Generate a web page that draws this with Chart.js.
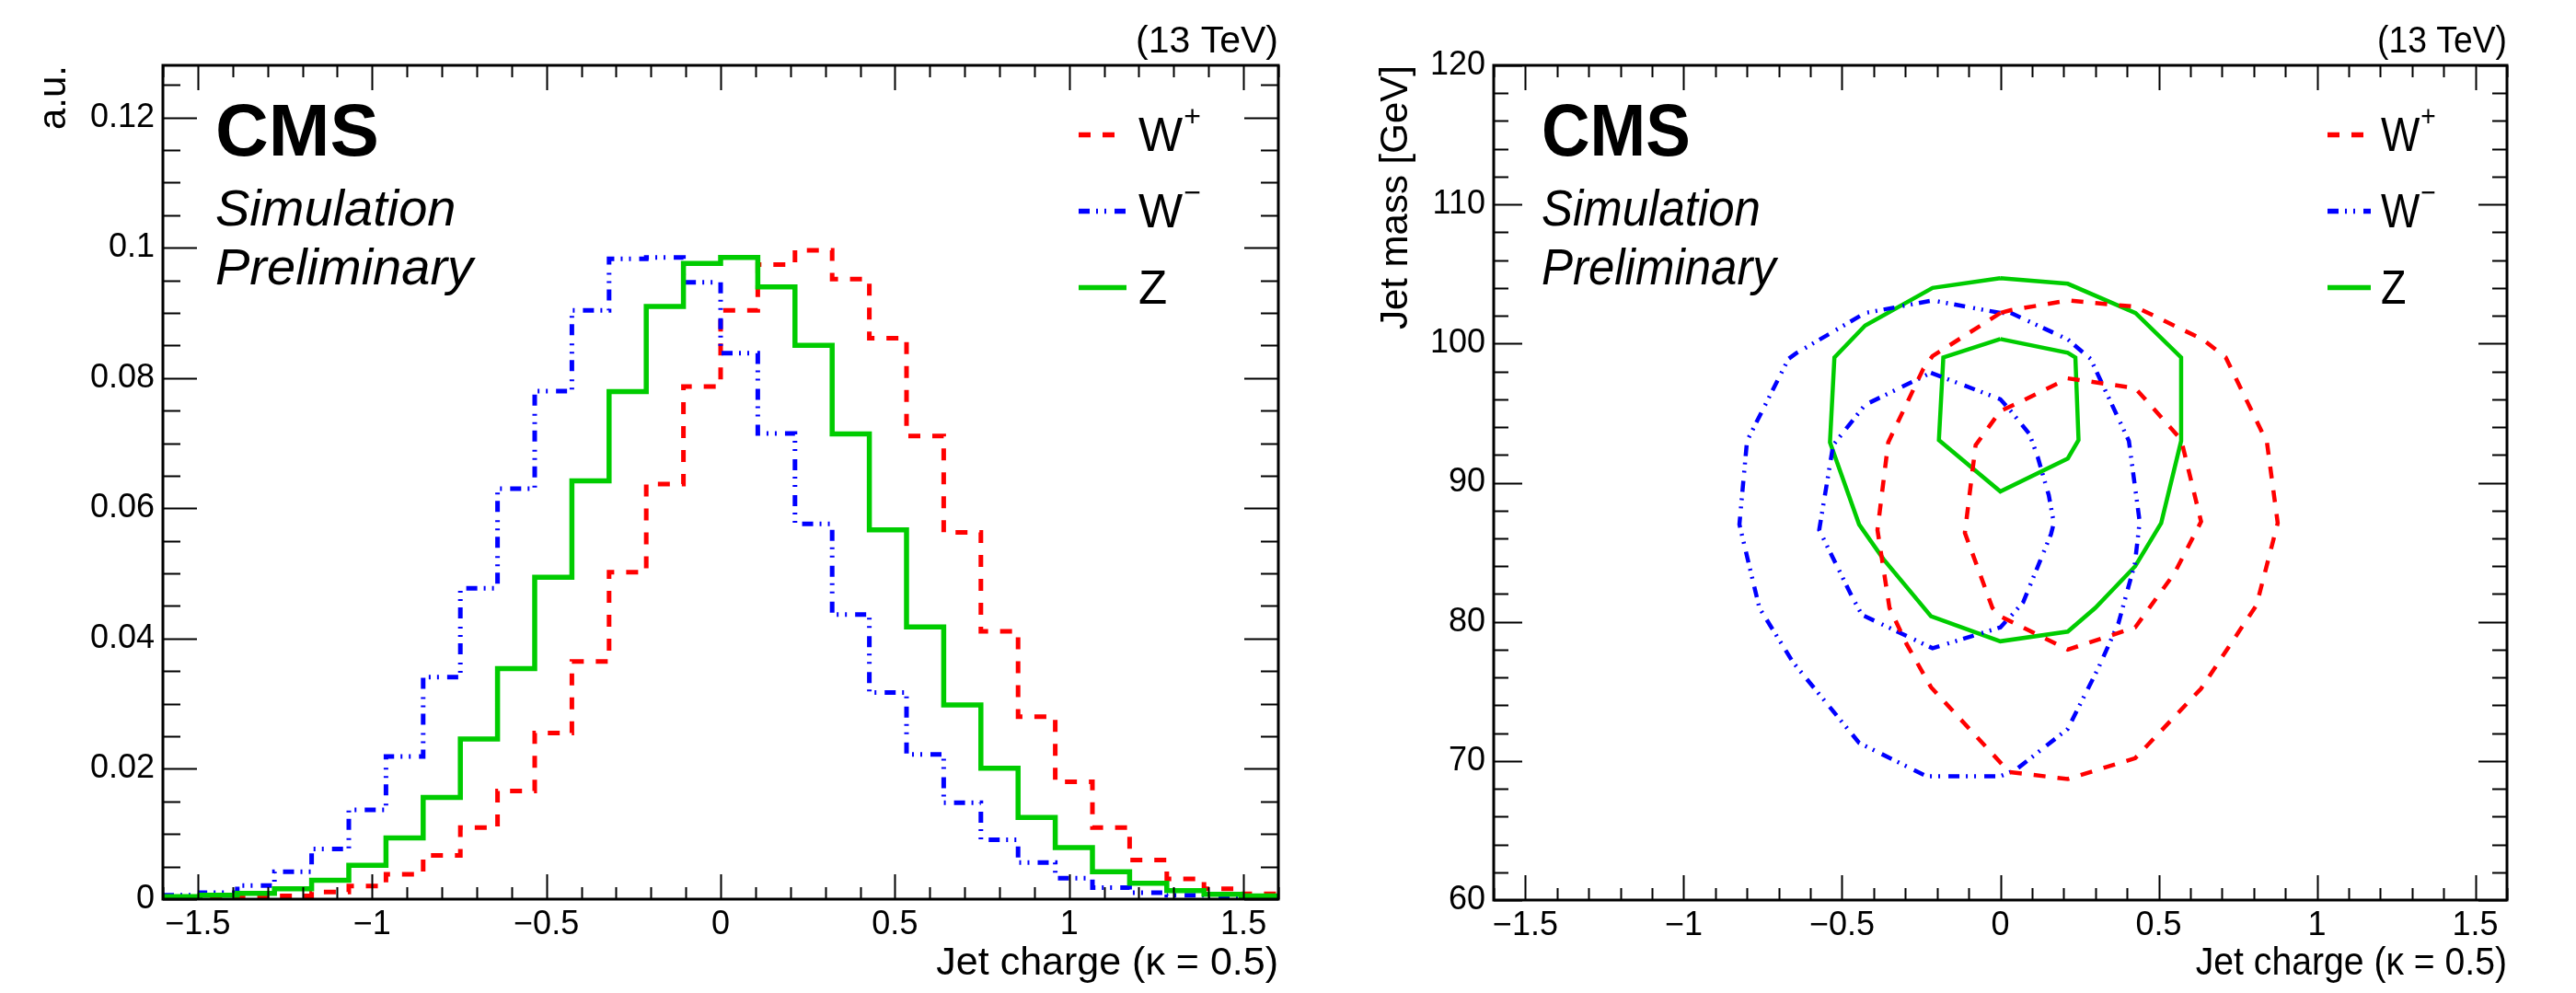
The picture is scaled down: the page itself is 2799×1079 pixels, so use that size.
<!DOCTYPE html>
<html>
<head>
<meta charset="utf-8">
<script src="https://cdn.jsdelivr.net/npm/chart.js@4.4.1/dist/chart.umd.min.js"></script>
<style>
  html, body { margin: 0; padding: 0; background: #fff; }
  #left { position: absolute; left: 0; top: 0; }
  #right { position: absolute; left: 1400px; top: 0; }
</style>
</head>
<body>
<canvas id="left" width="1400" height="1079"></canvas>
<canvas id="right" width="1399" height="1079"></canvas>
<script>
// jet charge histograms (30 bins from -1.6 to 1.6), normalised
const nBins = 30
const binLo = -1.6
const binHi = 1.6
const wPlusHist = [0.0001, 0.0002, 0.0003, 0.0005, 0.0011, 0.0020, 0.0038, 0.0067, 0.0110, 0.0166,
  0.0255, 0.0365, 0.0502, 0.0637, 0.0787, 0.0904, 0.0974, 0.0996, 0.0952, 0.0861,
  0.0711, 0.0563, 0.0411, 0.0280, 0.0180, 0.0110, 0.0060, 0.0031, 0.0016, 0.0008]
const wMinusHist = [0.0006, 0.0010, 0.0021, 0.0042, 0.0077, 0.0137, 0.0219, 0.0341, 0.0477, 0.0630,
  0.0780, 0.0904, 0.0983, 0.0985, 0.0947, 0.0838, 0.0715, 0.0576, 0.0437, 0.0317,
  0.0222, 0.0148, 0.0091, 0.0056, 0.0032, 0.00175, 0.0010, 0.0006, 0.0003, 0.0002]
const zHist = [0.0004, 0.0006, 0.0009, 0.0016, 0.0029, 0.0052, 0.0094, 0.0156, 0.0246, 0.0354,
  0.0494, 0.0642, 0.0779, 0.0910, 0.0976, 0.0985, 0.0940, 0.0850, 0.0714, 0.0567,
  0.0418, 0.0298, 0.0201, 0.01255, 0.0079, 0.0042, 0.00245, 0.0013, 0.00075, 0.0005]

// contours in (jet charge, jet mass)
const wPlusOuter = [[0, 102.2], [-0.214, 99.1], [-0.243, 98.2], [-0.354, 92.9], [-0.388, 86.6], [-0.35, 81.0],
  [-0.296, 78.4], [-0.219, 75.3], [0.028, 69.2], [0.213, 68.7], [0.426, 70.2], [0.634, 75.2], [0.809, 81.2],
  [0.867, 86.3], [0.876, 87.1], [0.842, 92.9], [0.712, 99.0], [0.639, 100.3], [0.426, 102.65], [0.213, 103.1],
  [0.033, 102.4], [0, 102.2]]
const wPlusInner = [[0.213, 97.5], [0.426, 96.8], [0.571, 93.1], [0.634, 87.2], [0.55, 83.5], [0.426, 79.6],
  [0.213, 78.0], [0.053, 79.8], [0, 80.4], [-0.025, 81.0], [-0.112, 86.4], [-0.078, 92.7], [0, 95.15],
  [0.062, 95.8], [0.213, 97.5]]
const wMinusOuter = [[0, 102.2], [-0.214, 103.1], [-0.427, 102.2], [-0.645, 99.3], [-0.669, 98.9], [-0.80, 93.0],
  [-0.824, 87.0], [-0.761, 81.0], [-0.655, 77.1], [-0.446, 71.3], [-0.233, 68.9], [0, 68.9], [0.048, 69.35],
  [0.213, 72.3], [0.31, 76.7], [0.373, 79.9], [0.425, 84.2], [0.44, 87.2], [0.406, 93.0], [0.285, 98.9],
  [0.213, 100.3], [0.033, 102.2], [0, 102.2]]
const wMinusInner = [[-0.219, 97.9], [0, 96.0], [0.033, 95.15], [0.092, 93.5], [0.118, 91.85], [0.153, 89.1],
  [0.169, 87.1], [0.16, 86.3], [0.126, 84.4], [0.072, 81.4], [0.033, 80.4], [0, 79.6], [-0.214, 78.1],
  [-0.437, 80.5], [-0.466, 81.7], [-0.572, 86.6], [-0.528, 92.7], [-0.427, 95.6], [-0.219, 97.9]]
const zOuter = [[0, 104.7], [0.213, 104.3], [0.427, 102.2], [0.571, 99.0], [0.571, 93.0], [0.508, 87.1],
  [0.426, 84.0], [0.30, 81.0], [0.213, 79.3], [0, 78.6], [-0.219, 80.4], [-0.369, 84.5], [-0.446, 87.0],
  [-0.538, 92.9], [-0.524, 99.0], [-0.427, 101.3], [-0.214, 104.0], [0, 104.7]]
const zInner = [[0, 100.33], [0.213, 99.34], [0.237, 99.0], [0.247, 93.06], [0.213, 91.74], [0, 89.37],
  [-0.194, 93.06], [-0.18, 99.0], [0, 100.33]]

// axis ticks
const chargeMajor = [-1.5, -1, -0.5, 0, 0.5, 1, 1.5]
const auMajor = [0, 0.02, 0.04, 0.06, 0.08, 0.1, 0.12]
const massMajor = [60, 70, 80, 90, 100, 110, 120]

const fontFam = '"Liberation Sans", Arial, Helvetica, sans-serif'
const RED = '#ff0000'
const BLUE = '#0000ff'
const GREEN = '#00cc00'
const dashRed = [13, 13]
const dashBlue = [12, 7, 2, 7, 2, 9]

var steps = (lo, hi, step) => {
  const out = []
  for (let v = lo; v <= hi + step / 2; v += step) out.push(+v.toFixed(6))
  return out
}

var fmt = v => (v < 0 ? '\u2212' : '') + String(Math.abs(+v.toFixed(4)))

var histPoints = vals => {
  const w = (binHi - binLo) / nBins
  const pts = vals.map((v, i) => ({ x: binLo + i * w, y: v }))
  pts.push({ x: binHi, y: vals[vals.length - 1] })
  return pts
}

var contourPoints = arr => arr.map(([x, y]) => ({ x, y }))

var drawText = (ctx, str, x, y, font, align, sx) => {
  ctx.save()
  ctx.translate(x, y)
  ctx.scale(sx, 1)
  ctx.font = font
  ctx.textAlign = align
  ctx.textBaseline = 'alphabetic'
  ctx.fillStyle = '#000'
  ctx.fillText(str, 0, 0)
  const w = ctx.measureText(str).width * sx
  ctx.restore()
  return w
}

// ROOT-like frame, inner ticks on all four sides, CMS labels and legend
var cmsDecor = p => ({
  id: 'cmsDecor',
  afterDraw (chart) {
    const { ctx, chartArea: a, scales: { x, y } } = chart
    ctx.save()
    ctx.strokeStyle = '#000'
    ctx.lineWidth = 2
    ctx.beginPath()
    const xt = (vals, len) => vals.forEach(v => {
      const px = Math.round(x.getPixelForValue(v)) + 0.5
      ctx.moveTo(px, a.bottom); ctx.lineTo(px, a.bottom - len)
      ctx.moveTo(px, a.top); ctx.lineTo(px, a.top + len)
    })
    const yt = (vals, len) => vals.forEach(v => {
      const py = Math.round(y.getPixelForValue(v)) + 0.5
      ctx.moveTo(a.left, py); ctx.lineTo(a.left + len, py)
      ctx.moveTo(a.right, py); ctx.lineTo(a.right - len, py)
    })
    xt(p.xMinor, p.xMinorLen)
    xt(p.xMajor, p.xMajorLen)
    yt(p.yMinor, p.yMinorLen)
    yt(p.yMajor, p.yMajorLen)
    ctx.stroke()
    ctx.lineWidth = 3
    ctx.strokeRect(a.left, a.top, a.right - a.left, a.bottom - a.top)
    ctx.restore()

    const sx = p.sx
    drawText(ctx, '(13 TeV)', a.right, 57, '41px ' + fontFam, 'right', sx)
    drawText(ctx, 'CMS', p.cmsX, 169, 'bold 80px ' + fontFam, 'left', sx)
    drawText(ctx, 'Simulation', p.cmsX, 245, 'italic 56px ' + fontFam, 'left', sx)
    drawText(ctx, 'Preliminary', p.cmsX, 309, 'italic 56px ' + fontFam, 'left', sx)
    drawText(ctx, 'Jet charge (\u03ba = 0.5)', a.right, 1059, '43px ' + fontFam, 'right', sx)

    ctx.save()
    ctx.translate(p.yTitleX, a.top)
    ctx.rotate(-Math.PI / 2)
    ctx.font = '42px ' + fontFam
    ctx.textAlign = 'right'
    ctx.fillStyle = '#000'
    ctx.fillText(p.yTitle, 0, 0)
    ctx.restore()

    p.legend.forEach((row, i) => {
      const ds = chart.data.datasets[row.ds]
      const yy = 146.5 + i * 83
      ctx.save()
      ctx.strokeStyle = ds.borderColor
      ctx.lineWidth = 5.5
      ctx.setLineDash(ds.borderDash || [])
      ctx.beginPath()
      ctx.moveTo(p.legX0, yy)
      ctx.lineTo(p.legX1, yy)
      ctx.stroke()
      ctx.restore()
      const w = drawText(ctx, row.main, p.legTx, yy + 17.5, '51px ' + fontFam, 'left', p.legSx)
      if (row.sup) drawText(ctx, row.sup, p.legTx + w + 1, yy + 17.5 - 27, '32px ' + fontFam, 'left', p.legSx)
    })
  }
})

var tickFont = { family: fontFam, size: 36 }

var xScale = (height) => ({
  type: 'linear',
  min: binLo,
  max: binHi,
  grid: { display: false, drawTicks: false },
  border: { display: false },
  afterBuildTicks: s => { s.ticks = chargeMajor.map(v => ({ value: v })) },
  afterFit: s => { s.height = height },
  ticks: { font: tickFont, color: '#000', padding: 6, maxRotation: 0, autoSkip: false, callback: v => fmt(v) }
})

var yScale = (min, max, major, width) => ({
  type: 'linear',
  min,
  max,
  grid: { display: false, drawTicks: false },
  border: { display: false },
  afterBuildTicks: s => { s.ticks = major.map(v => ({ value: v })) },
  afterFit: s => { s.width = width },
  ticks: { font: tickFont, color: '#000', padding: 9, autoSkip: false, callback: v => fmt(v) }
})

const lineBase = { pointRadius: 0, fill: false, tension: 0, borderWidth: 5 }

new Chart(document.getElementById('left'), {
  type: 'line',
  data: {
    datasets: [
      { ...lineBase, label: 'Z', data: histPoints(zHist), borderColor: GREEN, borderWidth: 5.5, stepped: true, order: 0 },
      { ...lineBase, label: 'W-', data: histPoints(wMinusHist), borderColor: BLUE, borderDash: dashBlue, stepped: true, order: 1 },
      { ...lineBase, label: 'W+', data: histPoints(wPlusHist), borderColor: RED, borderDash: dashRed, stepped: true, order: 2 }
    ]
  },
  options: {
    responsive: false,
    animation: false,
    devicePixelRatio: 1,
    layout: { padding: { left: 0, right: 11, top: 71, bottom: 0 } },
    plugins: { legend: { display: false }, tooltip: { enabled: false } },
    scales: {
      x: xScale(102),
      y: yScale(0, 0.128, auMajor, 177)
    }
  },
  plugins: [cmsDecor({
    sx: 1,
    legSx: 1,
    cmsX: 234,
    yTitle: 'a.u.',
    yTitleX: 71,
    legX0: 1172,
    legX1: 1224,
    legTx: 1237,
    legend: [{ ds: 2, main: 'W', sup: '+' }, { ds: 1, main: 'W', sup: '\u2212' }, { ds: 0, main: 'Z' }],
    xMajor: chargeMajor,
    xMinor: steps(-1.6, 1.6, 0.1),
    xMajorLen: 27,
    xMinorLen: 13,
    yMajor: auMajor,
    yMinor: steps(0, 0.125, 0.005),
    yMajorLen: 37,
    yMinorLen: 19
  })]
})

const contourBase = { ...lineBase, showLine: true, borderWidth: 4.5 }

new Chart(document.getElementById('right'), {
  type: 'scatter',
  data: {
    datasets: [
      { ...contourBase, label: 'W+ outer', data: contourPoints(wPlusOuter), borderColor: RED, borderDash: dashRed },
      { ...contourBase, label: 'W+ inner', data: contourPoints(wPlusInner), borderColor: RED, borderDash: dashRed },
      { ...contourBase, label: 'W- outer', data: contourPoints(wMinusOuter), borderColor: BLUE, borderDash: dashBlue },
      { ...contourBase, label: 'W- inner', data: contourPoints(wMinusInner), borderColor: BLUE, borderDash: dashBlue },
      { ...contourBase, label: 'Z outer', data: contourPoints(zOuter), borderColor: GREEN },
      { ...contourBase, label: 'Z inner', data: contourPoints(zInner), borderColor: GREEN }
    ]
  },
  options: {
    responsive: false,
    animation: false,
    devicePixelRatio: 1,
    layout: { padding: { left: 0, right: 75, top: 71, bottom: 0 } },
    plugins: { legend: { display: false }, tooltip: { enabled: false } },
    scales: {
      x: xScale(101),
      y: yScale(60, 120, massMajor, 223)
    }
  },
  plugins: [cmsDecor({
    sx: 0.91,
    legSx: 0.88,
    cmsX: 275,
    yTitle: 'Jet mass [GeV]',
    yTitleX: 129,
    legX0: 1129,
    legX1: 1176,
    legTx: 1187,
    legend: [{ ds: 0, main: 'W', sup: '+' }, { ds: 2, main: 'W', sup: '\u2212' }, { ds: 4, main: 'Z' }],
    xMajor: chargeMajor,
    xMinor: steps(-1.6, 1.6, 0.1),
    xMajorLen: 27,
    xMinorLen: 13,
    yMajor: massMajor,
    yMinor: steps(60, 120, 2),
    yMajorLen: 31,
    yMinorLen: 16
  })]
})
</script>
</body>
</html>
